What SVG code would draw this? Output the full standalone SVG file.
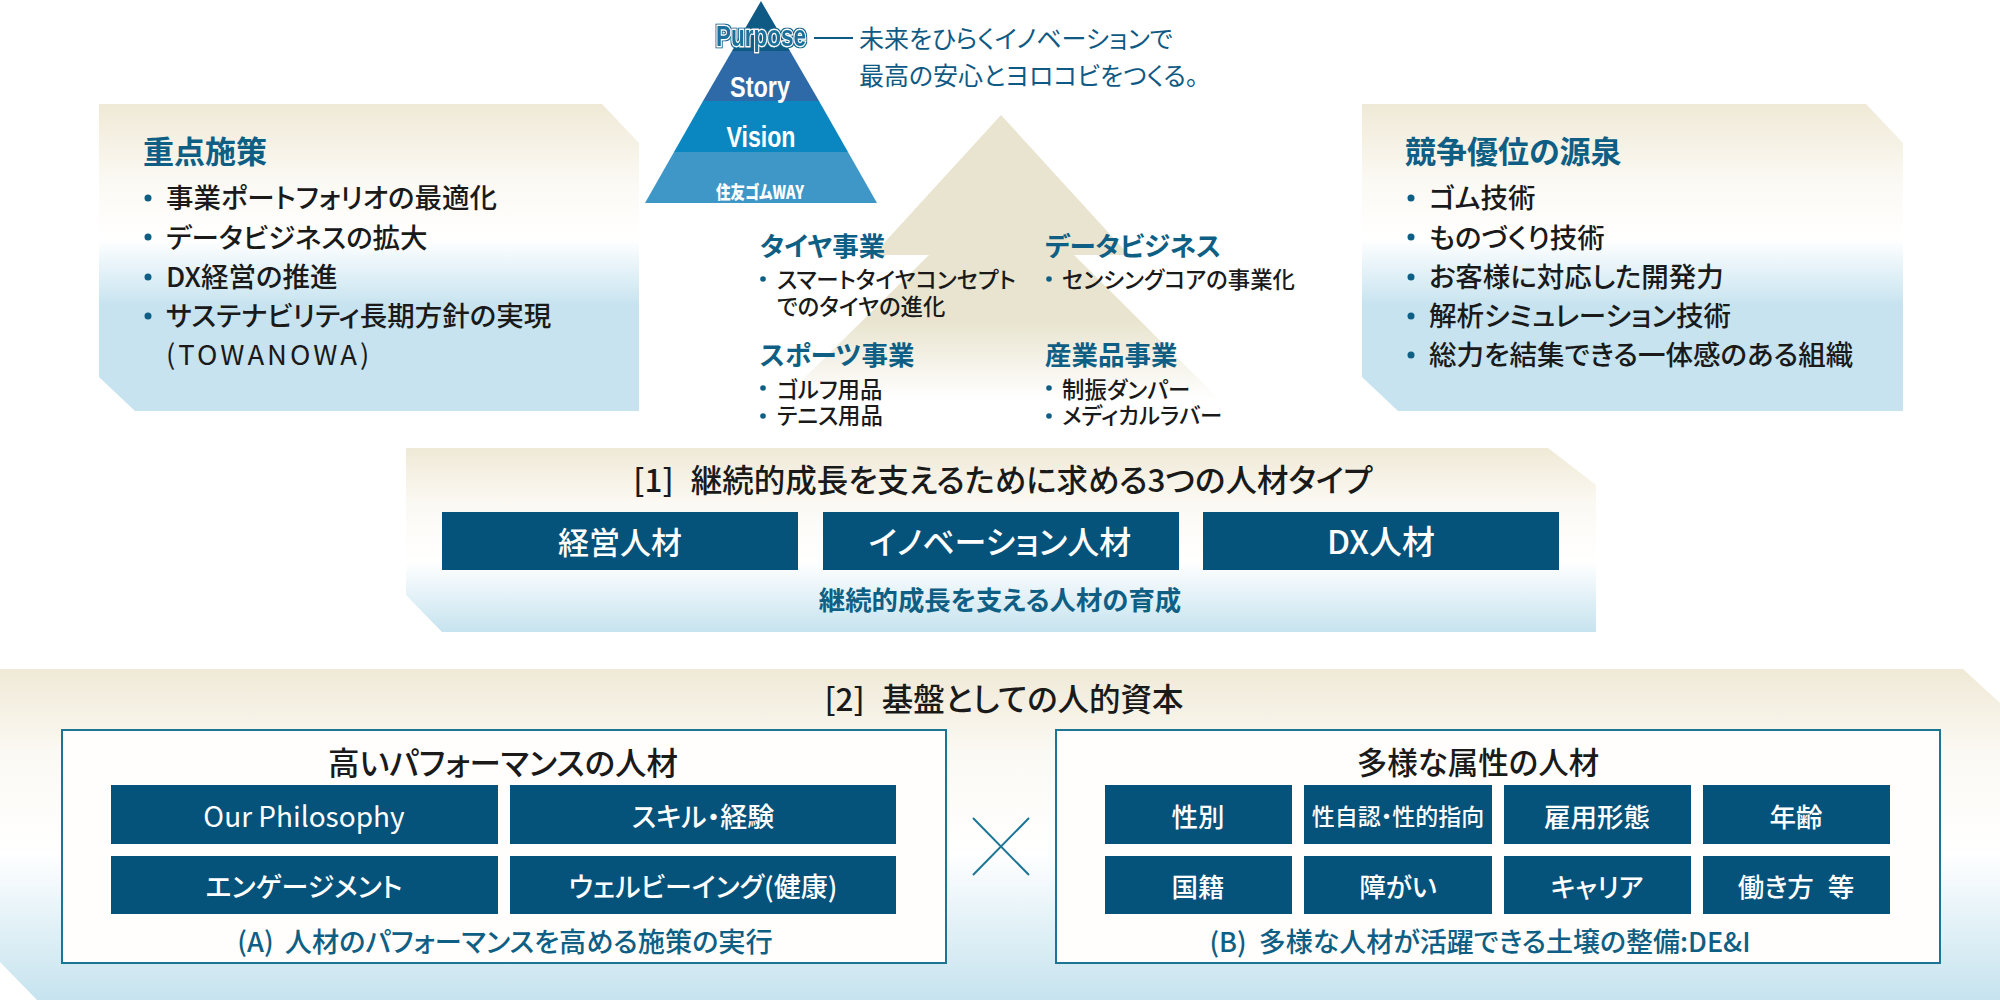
<svg xmlns="http://www.w3.org/2000/svg" width="2000" height="1000" viewBox="0 0 2000 1000">
<defs>
<linearGradient id="gSide" x1="0" y1="0" x2="0" y2="1"><stop offset="0" stop-color="#efe9d6"/><stop offset=".25" stop-color="#fbf9f3"/><stop offset=".44" stop-color="#fff"/><stop offset=".66" stop-color="#c6e3ef"/><stop offset="1" stop-color="#c6e3ef"/></linearGradient>
<linearGradient id="gOne" x1="0" y1="0" x2="0" y2="1"><stop offset="0" stop-color="#efe9d6"/><stop offset=".3" stop-color="#fbf9f3"/><stop offset=".62" stop-color="#fff"/><stop offset="1" stop-color="#c6e3ef"/></linearGradient>
<linearGradient id="gTwo" x1="0" y1="0" x2="0" y2="1"><stop offset="0" stop-color="#efe9d6"/><stop offset=".25" stop-color="#fbf9f3"/><stop offset=".55" stop-color="#fff"/><stop offset="1" stop-color="#c6e3ef"/></linearGradient>
<linearGradient id="gUp" gradientUnits="userSpaceOnUse" x1="0" y1="115" x2="0" y2="400"><stop offset="0" stop-color="#e9e4cf"/><stop offset=".72" stop-color="#e9e4cf"/><stop offset="1" stop-color="#fff"/></linearGradient>
<filter id="outline" x="-10%" y="-30%" width="120%" height="160%"><feMorphology in="SourceAlpha" operator="dilate" radius="1" result="d"/><feFlood flood-color="#0f6a90"/><feComposite in2="d" operator="in" result="o"/><feMerge><feMergeNode in="o"/><feMergeNode in="SourceGraphic"/></feMerge></filter>
</defs>
<style>
text{font-family:"Noto Sans CJK JP","Noto Sans",sans-serif;dominant-baseline:central;font-feature-settings:"palt";}
.c{text-anchor:middle}
.head{font-size:31px;font-weight:700;fill:#0f5f85}
.li{font-size:27.5px;font-weight:500;fill:#1a1a1a}
.sub{font-size:26.5px;font-weight:700;fill:#0f5f85}
.it{font-size:22.4px;font-weight:500;fill:#1a1a1a}
.ttl{font-size:31.5px;font-weight:500;fill:#1a1a1a}
.cap{font-size:27.5px;font-weight:500;fill:#0f5f85}
.lab{font-size:27px;font-weight:500;fill:#fff}
.pyr{font-family:"Liberation Sans Narrow","Liberation Sans",sans-serif;font-weight:700;fill:#fff}
.tag{font-size:25px;font-weight:400;fill:#0f5a84}
.b{fill:#0f5f85}
.dark{fill:#05527b}
.frame{fill:#fffefc;stroke:#1d7596;stroke-width:2}
.con{stroke:#1d7596;stroke-width:2;fill:none}
</style>

<g id="arrow-bg"><path d="M1001 115L1129 255H1074L1220 400H782L929 255H873Z" fill="url(#gUp)"/></g>

<g id="pyramid">
<path d="M761 1L790 51H732Z" fill="#0f5a84"/>
<path d="M732 51H790L819 101H703Z" fill="#2e6aa8"/>
<path d="M703 101H819L848 152H674Z" fill="#0a87c0"/>
<path d="M674 152H848L877 203H645Z" fill="#3e97c6"/>
<text class="pyr c" x="761" y="35" font-size="30" textLength="90" lengthAdjust="spacingAndGlyphs" filter="url(#outline)" style="fill:#1a6f9c;stroke:#fff;stroke-width:2.4;paint-order:stroke">Purpose</text>
<text class="pyr c" x="760" y="86" font-size="30" textLength="60" lengthAdjust="spacingAndGlyphs">Story</text>
<text class="pyr c" x="761" y="136" font-size="30" textLength="69" lengthAdjust="spacingAndGlyphs">Vision</text>
<text class="c" x="760" y="191" font-size="18" font-weight="900" fill="#fff" textLength="88" lengthAdjust="spacingAndGlyphs">住友ゴムWAY</text>
</g>

<g id="tagline">
<path class="con" d="M814 38H853" style="stroke:#0f5a84"/>
<text class="tag" x="859" y="37">未来をひらくイノベーションで</text>
<text class="tag" x="859" y="74">最高の安心とヨロコビをつくる。</text>
</g>

<g id="panel-left">
<path d="M99 104H602L639 143V411H135L99 377Z" fill="url(#gSide)"/>
<text class="head" x="143" y="149">重点施策</text>
<circle class="b" cx="148" cy="198" r="3.5"/><text class="li" x="166" y="196">事業ポートフォリオの最適化</text>
<circle class="b" cx="148" cy="237" r="3.5"/><text class="li" x="166" y="236">データビジネスの拡大</text>
<circle class="b" cx="148" cy="277" r="3.5"/><text class="li" x="166" y="275">DX経営の推進</text>
<circle class="b" cx="148" cy="316" r="3.5"/><text class="li" x="166" y="314">サステナビリティ長期方針の実現</text>
<text class="li" x="166" y="353" style="letter-spacing:3px;font-weight:400">(TOWANOWA)</text>
</g>

<g id="panel-right">
<path d="M1362 104H1866L1903 143V411H1398L1362 377Z" fill="url(#gSide)"/>
<text class="head" x="1405" y="149">競争優位の源泉</text>
<circle class="b" cx="1411" cy="198" r="3.5"/><text class="li" x="1429" y="196">ゴム技術</text>
<circle class="b" cx="1411" cy="237" r="3.5"/><text class="li" x="1429" y="236">ものづくり技術</text>
<circle class="b" cx="1411" cy="277" r="3.5"/><text class="li" x="1429" y="275">お客様に対応した開発力</text>
<circle class="b" cx="1411" cy="316" r="3.5"/><text class="li" x="1429" y="314">解析シミュレーション技術</text>
<circle class="b" cx="1411" cy="355" r="3.5"/><text class="li" x="1429" y="353">総力を結集できる一体感のある組織</text>
</g>

<g id="business">
<text class="sub" x="760" y="244">タイヤ事業</text>
<circle class="b" cx="763" cy="279" r="2.8"/><text class="it" x="777" y="278">スマートタイヤコンセプト</text>
<text class="it" x="777" y="305">でのタイヤの進化</text>
<text class="sub" x="1045" y="244">データビジネス</text>
<circle class="b" cx="1049" cy="279" r="2.8"/><text class="it" x="1062" y="278">センシングコアの事業化</text>
<text class="sub" x="760" y="353">スポーツ事業</text>
<circle class="b" cx="763" cy="388" r="2.8"/><text class="it" x="777" y="388">ゴルフ用品</text>
<circle class="b" cx="763" cy="416" r="2.8"/><text class="it" x="777" y="414">テニス用品</text>
<text class="sub" x="1045" y="353">産業品事業</text>
<circle class="b" cx="1049" cy="388" r="2.8"/><text class="it" x="1062" y="388">制振ダンパー</text>
<circle class="b" cx="1049" cy="416" r="2.8"/><text class="it" x="1062" y="414">メディカルラバー</text>
</g>

<g id="panel-1">
<path d="M406 448H1548L1596 485V632H442L406 595Z" fill="url(#gOne)"/>
<text class="ttl c" x="1003" y="478">[1]<tspan dx="10"> 継続的成長を支えるために求める3つの人材タイプ</tspan></text>
<rect class="dark" x="442" y="512" width="356" height="58"/><text class="lab c" x="620" y="540" style="font-size:31px">経営人材</text>
<rect class="dark" x="823" y="512" width="356" height="58"/><text class="lab c" x="1000" y="540" style="font-size:32px">イノベーション人材</text>
<rect class="dark" x="1203" y="512" width="356" height="58"/><text class="lab c" x="1381" y="540" style="font-size:33px">DX人材</text>
<text class="cap c" x="1000" y="598" style="font-weight:700;font-size:26.4px">継続的成長を支える人材の育成</text>
</g>

<g id="panel-2">
<path d="M0 669H1963L2000 703V1000H37L0 962Z" fill="url(#gTwo)"/>
<text class="ttl c" x="1004" y="697">[2]<tspan dx="10"> 基盤としての人的資本</tspan></text>
</g>

<g id="box-a">
<rect class="frame" x="62" y="730" width="884" height="233"/>
<text class="ttl c" x="503" y="761">高いパフォーマンスの人材</text>
<rect class="dark" x="111" y="785" width="387" height="59"/><text class="lab c" x="304" y="815" style="font-weight:400;font-size:28px">Our Philosophy</text>
<rect class="dark" x="510" y="785" width="386" height="59"/><text class="lab c" x="703" y="815">スキル・経験</text>
<rect class="dark" x="111" y="856" width="387" height="58"/><text class="lab c" x="304" y="885">エンゲージメント</text>
<rect class="dark" x="510" y="856" width="386" height="58"/><text class="lab c" x="703" y="885">ウェルビーイング(健康)</text>
<text class="cap c" x="505" y="940" style="font-size:27.2px">(A)<tspan dx="5"> 人材のパフォーマンスを高める施策の実行</tspan></text>
</g>

<g id="box-b">
<rect class="frame" x="1056" y="730" width="884" height="233"/>
<text class="ttl c" x="1478" y="761" style="font-size:30.5px">多様な属性の人材</text>
<rect class="dark" x="1105" y="785" width="187" height="59"/><text class="lab c" x="1198" y="815" style="font-size:26.5px">性別</text>
<rect class="dark" x="1304" y="785" width="188" height="59"/><text class="lab c" x="1398" y="815" style="font-size:23px">性自認・性的指向</text>
<rect class="dark" x="1504" y="785" width="187" height="59"/><text class="lab c" x="1597" y="815" style="font-size:26.5px">雇用形態</text>
<rect class="dark" x="1703" y="785" width="187" height="59"/><text class="lab c" x="1796" y="815" style="font-size:26.5px">年齢</text>
<rect class="dark" x="1105" y="856" width="187" height="58"/><text class="lab c" x="1198" y="885" style="font-size:26.5px">国籍</text>
<rect class="dark" x="1304" y="856" width="188" height="58"/><text class="lab c" x="1398" y="885" style="font-size:26.5px">障がい</text>
<rect class="dark" x="1504" y="856" width="187" height="58"/><text class="lab c" x="1597" y="885" style="font-size:26.5px">キャリア</text>
<rect class="dark" x="1703" y="856" width="187" height="58"/><text class="lab c" x="1796" y="885" style="font-size:26.5px">働き方<tspan dx="8"> 等</tspan></text>
<text class="cap c" x="1480" y="940" style="font-size:27px">(B)<tspan dx="6"> 多様な人材が活躍できる土壌の整備:DE&amp;I</tspan></text>
</g>

<g id="connectors">
<path class="con" d="M973 818L1029 875M1029 818L973 875"/>
</g>
</svg>
